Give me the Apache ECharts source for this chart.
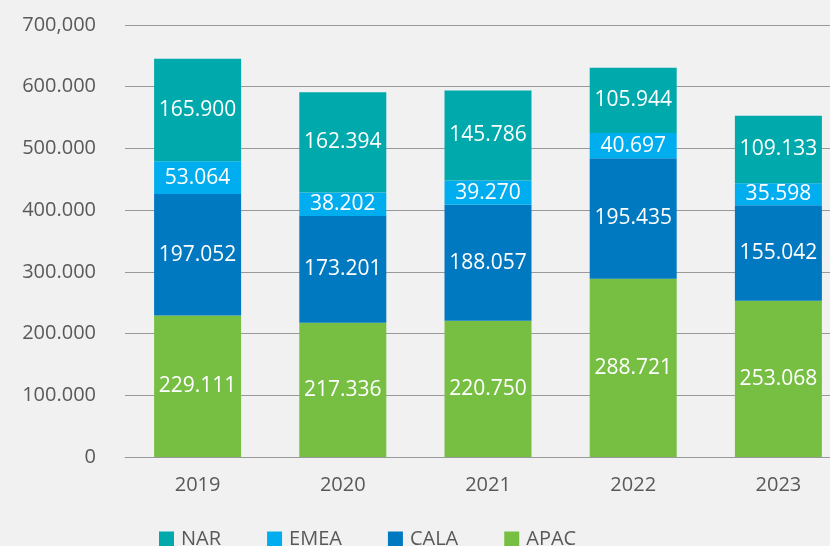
<!DOCTYPE html>
<html>
<head>
<meta charset="utf-8">
<script src="https://cdn.jsdelivr.net/npm/echarts@6/dist/echarts.min.js"></script>
<style>
  html, body { margin: 0; padding: 0; background: #f1f1f1; }
  #chart { width: 830px; height: 546px; }
</style>
</head>
<body>
<div id="chart"></div>
<script>
// data
var years = ['2019', '2020', '2021', '2022', '2023'];
var apac = [229111, 217336, 220750, 288721, 253068];
var cala = [197052, 173201, 188057, 195435, 155042];
var emea = [53064, 38202, 39270, 40697, 35598];
var nar = [165900, 162394, 145786, 105944, 109133];
var yTicks = {0: '0', 100000: '100.000', 200000: '200.000', 300000: '300.000',
  400000: '400.000', 500000: '500.000', 600000: '600.000', 700000: '700,000'};

var colors = { NAR: '#00a9ac', EMEA: '#00aeef', CALA: '#0079c1', APAC: '#77bf43' };
var font = '"Open Sans", sans-serif';

// 1234567 -> 1.234.567
function dotted(v) {
    return String(v).replace(/\B(?=(\d{3})+(?!\d))/g, '.');
}

function makeSeries(name, data) {
    return {
        name: name,
        type: 'bar',
        stack: 'total',
        barWidth: 87,
        data: data,
        itemStyle: { color: colors[name] },
        label: {
            show: true,
            position: 'inside',
            color: '#fff',
            fontSize: 21,
            fontFamily: font,
            formatter: function (p) { return dotted(p.value); }
        }
    };
}

var myChart = echarts.init(document.getElementById('chart'));

var option = {
    backgroundColor: '#f1f1f1',
    animation: false,
    grid: {
        left: 125,
        top: 25,
        right: -21,
        bottom: 89,
        outerBoundsMode: 'none'
    },
    legend: {
        data: ['NAR', 'EMEA', 'CALA', 'APAC'],
        left: 159,
        top: 529,
        padding: 0,
        itemWidth: 15,
        itemHeight: 15,
        itemGap: 46,
        icon: 'rect',
        textStyle: { color: '#595959', fontSize: 20, fontFamily: font, padding: [0, 0, 0, 2] }
    },
    xAxis: {
        type: 'category',
        data: years,
        axisTick: { show: false },
        axisLine: { lineStyle: { color: '#999' } },
        axisLabel: { color: '#595959', fontSize: 20, fontFamily: font, margin: 18 }
    },
    yAxis: {
        type: 'value',
        min: 0,
        max: 700000,
        interval: 100000,
        axisLine: { show: false },
        axisTick: { show: false },
        splitLine: { lineStyle: { color: '#999' } },
        axisLabel: {
            color: '#595959',
            fontSize: 20,
            fontFamily: font,
            margin: 29,
            formatter: function (value) {
                return yTicks[value];
            }
        }
    },
    series: [
        makeSeries('APAC', apac),
        makeSeries('CALA', cala),
        makeSeries('EMEA', emea),
        makeSeries('NAR', nar)
    ]
};

myChart.setOption(option, true);
</script>
</body>
</html>
